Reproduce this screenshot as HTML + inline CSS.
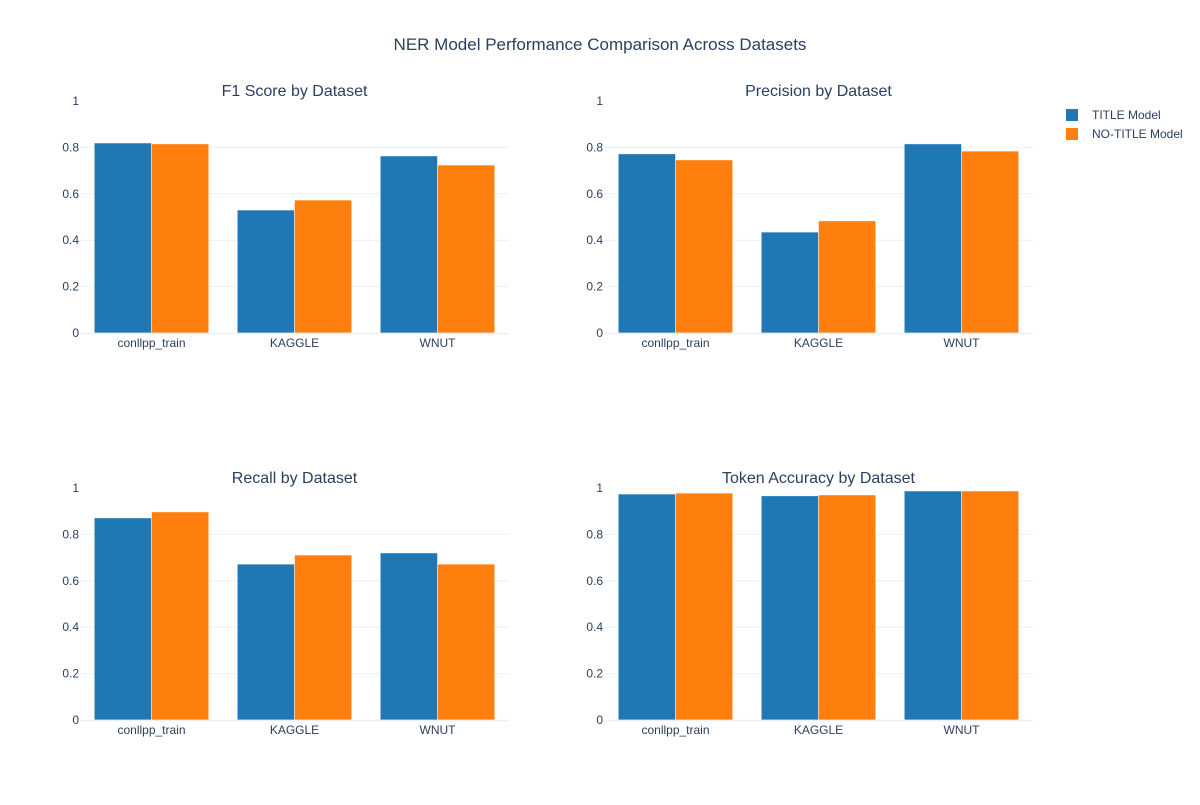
<!DOCTYPE html>
<html><head><meta charset="utf-8"><style>
body{margin:0;background:#fff;}
svg{font-family:"Liberation Sans",Arial,sans-serif;}
</style></head><body>
<svg id="chart" width="1200" height="800">
<text x="600" y="50" text-anchor="middle" font-size="17" fill="#2a3f5f">NER Model Performance Comparison Across Datasets</text>
<g>
<rect x="1066" y="109" width="12" height="12" fill="#1f77b4"/>
<text x="1092" y="119" font-size="12" fill="#2a3f5f">TITLE Model</text>
<rect x="1066" y="128" width="12" height="12" fill="#ff7f0e"/>
<text x="1092" y="138" font-size="12" fill="#2a3f5f">NO-TITLE Model</text>
</g>
</svg>
<script>
const categories = ["conllpp_train","KAGGLE","WNUT"];
const panelTitles = ["F1 Score by Dataset","Precision by Dataset","Recall by Dataset","Token Accuracy by Dataset"];
const titleValues = [[0.819,0.530,0.763],[0.772,0.435,0.815],[0.871,0.672,0.720],[0.974,0.966,0.987]];
const noTitleValues = [[0.815,0.573,0.724],[0.746,0.483,0.784],[0.897,0.711,0.672],[0.978,0.970,0.987]];
const yTicks = [0,0.2,0.4,0.6,0.8,1];
const yTickLabels = ["0","0.2","0.4","0.6","0.8","1"];

const NS="http://www.w3.org/2000/svg";
const svg=document.getElementById('chart');
function mk(tag,attrs,parent){const e=document.createElementNS(NS,tag);for(const k in attrs)e.setAttribute(k,attrs[k]);(parent||svg).appendChild(e);return e;}
const panels=[{x0:80,x1:509,y0:333,y1:101},{x0:604,x1:1033,y0:333,y1:101},{x0:80,x1:509,y0:720,y1:488},{x0:604,x1:1033,y0:720,y1:488}];
const slugs=["f1","precision","recall","token-accuracy"];
panels.forEach((p,i)=>{
  const g=mk('g',{});
  
  
  const yScale=v=>p.y0-(p.y0-p.y1)*v;
  const catW=(p.x1-p.x0)/categories.length;
  const barW=catW*0.8/2;
  const t=mk('text',{x:(p.x0+p.x1)/2,y:p.y1-5,'text-anchor':'middle','font-size':16,fill:'#2a3f5f'},g);
  t.textContent=panelTitles[i];
  
  
  yTicks.forEach((v,k)=>{
    if(v>0&&v<1){const l=mk('line',{x1:p.x0,x2:p.x1,y1:yScale(v),y2:yScale(v),stroke:'#ebf0f8','stroke-width':1},g);
      
      }
    const tl=mk('text',{x:p.x0-1,y:yScale(v)+4,'text-anchor':'end','font-size':12,fill:'#2a3f5f'},g);
    tl.textContent=yTickLabels[k];
    
    
  });
  categories.forEach((c,j)=>{
    const cx=p.x0+catW*(j+0.5);
    const vals=[titleValues[i][j],noTitleValues[i][j]];
    const cols=['#1f77b4','#ff7f0e'];
    vals.forEach((v,s)=>{
      const r=mk('rect',{x:cx-barW+s*barW,y:yScale(v),width:barW,height:p.y0-yScale(v),fill:cols[s],stroke:'#fff','stroke-width':0.5},g);
      
      
    });
    const xl=mk('text',{x:cx,y:p.y0+14,'text-anchor':'middle','font-size':12,fill:'#2a3f5f'},g);
    xl.textContent=c;
    
    
  });
  const ax=mk('line',{x1:p.x0,x2:p.x1,y1:p.y0+0.5,y2:p.y0+0.5,stroke:'#ebf0f8','stroke-width':1.5},g);
  
  
});
</script>
</body></html>
